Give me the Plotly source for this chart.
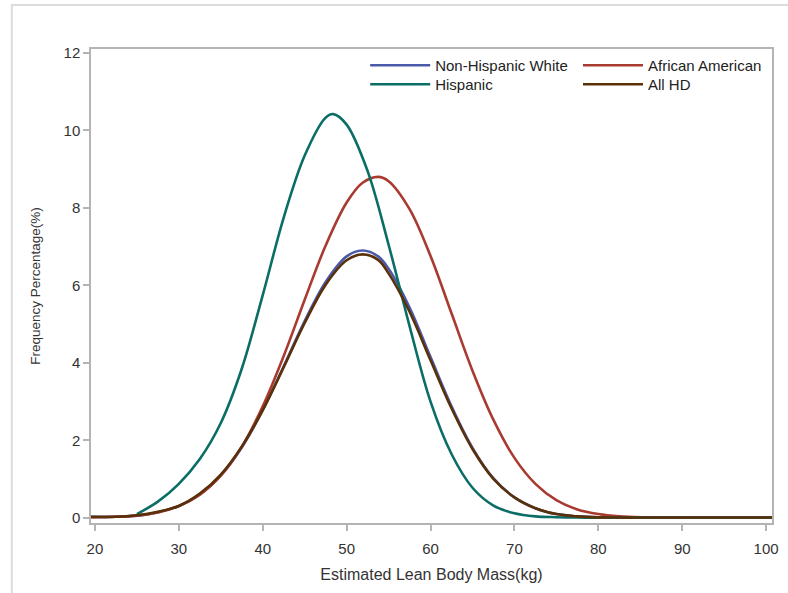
import plotly.graph_objects as go

# x grid (kg) for every read-off point
x_all = [19.5, 22.5, 25, 27.5, 30, 32.5, 35, 37.5, 40, 42.5, 45, 47.5, 50, 51.9, 53.75, 55,
         57.5, 60, 62.5, 65, 67.5, 70, 72.5, 75, 77.5, 80, 82.5, 85, 87.5, 90, 92.5,
         95, 97.5, 101]

nh_white = [0.03, 0.03, 0.06, 0.15, 0.31, 0.61, 1.10, 1.82, 2.78, 3.91, 5.08, 6.09, 6.75,
            6.90, 6.75, 6.43, 5.43, 4.15, 2.88, 1.81, 1.02, 0.53, 0.25, 0.10, 0.04, 0.015,
            0.01, 0.01, 0.01, 0.01, 0.01, 0.01, 0.01, 0.01]

african_am = [0.01, 0.03, 0.06, 0.14, 0.31, 0.60, 1.09, 1.84, 2.88, 4.18, 5.63, 7.03, 8.14,
              8.65, 8.80, 8.69, 7.97, 6.76, 5.28, 3.80, 2.53, 1.55, 0.88, 0.46, 0.22, 0.10,
              0.04, 0.015, 0.01, 0.01, 0.01, 0.01, 0.01, 0.01]

all_hd = [0.03, 0.03, 0.07, 0.16, 0.31, 0.63, 1.12, 1.84, 2.78, 3.89, 5.03, 6.02, 6.65,
          6.80, 6.66, 6.31, 5.32, 4.07, 2.83, 1.78, 1.01, 0.53, 0.25, 0.10, 0.04, 0.015,
          0.01, 0.01, 0.01, 0.01, 0.01, 0.01, 0.01, 0.01]

x_hisp = [25, 27.5, 30, 32.5, 35, 37.5, 40, 42.5, 45, 47.5, 48.4, 50, 52.5, 55, 57.5, 60,
          62.5, 65, 67.5, 70, 72.5, 75, 77.5, 80, 82.5, 85, 87.5, 90, 92.5, 95, 97.5, 101]
hispanic = [0.10, 0.42, 0.88, 1.52, 2.45, 3.85, 5.75, 7.75, 9.35, 10.33, 10.42, 10.15, 8.95,
            7.05, 4.95, 3.0, 1.65, 0.78, 0.32, 0.12, 0.04, 0.02, 0.01, 0.01, 0.01, 0.01,
            0.01, 0.01, 0.01, 0.01, 0.01, 0.01]

x_ticks = [20, 30, 40, 50, 60, 70, 80, 90, 100]
y_ticks = [0, 2, 4, 6, 8, 10, 12]

C_BLUE = "#4a5aa8"
C_RED = "#a83a30"
C_TEAL = "#0b6e66"
C_BROWN = "#5a3008"

FONT = "Liberation Sans, Arial, sans-serif"

fig = go.Figure()
line_kw = dict(shape="spline", smoothing=1.0, width=2.6)
fig.add_trace(go.Scatter(x=x_all, y=nh_white, mode="lines", name="Non-Hispanic White",
                         line=dict(color=C_BLUE, **line_kw), legend="legend", showlegend=True))
fig.add_trace(go.Scatter(x=x_all, y=african_am, mode="lines", name="African American",
                         line=dict(color=C_RED, **line_kw), legend="legend2", showlegend=True))
fig.add_trace(go.Scatter(x=x_hisp, y=hispanic, mode="lines", name="Hispanic",
                         line=dict(color=C_TEAL, **line_kw), legend="legend3", showlegend=True))
fig.add_trace(go.Scatter(x=x_all, y=all_hd, mode="lines", name="All HD",
                         line=dict(color=C_BROWN, **line_kw), legend="legend4", showlegend=True))

axis_common = dict(showline=True, linecolor="#b4b4b4", linewidth=1.5, mirror=True,
                   ticks="outside", ticklen=6, tickcolor="#b4b4b4", tickwidth=1.5,
                   showgrid=False, zeroline=False,
                   tickfont=dict(family=FONT, size=15, color="#333333"))


def leg(px_left, px_top):
    return dict(x=(px_left - 91) / 688, y=1 - (px_top - 49) / 474, xanchor="left",
                yanchor="top", bgcolor="rgba(0,0,0,0)", visible=True,
                font=dict(family=FONT, size=15, color="#222222"), itemwidth=60)


fig.update_layout(
    width=788, height=593,
    showlegend=True,
    margin=dict(l=91, r=9, t=49, b=70),
    paper_bgcolor="white", plot_bgcolor="white",
    font=dict(family=FONT, size=15, color="#333333"),
    xaxis=dict(range=[19.53, 100.7], tickvals=x_ticks, ticklabelstandoff=5,
               title=dict(text="Estimated Lean Body Mass(kg)",
                          font=dict(size=16, color="#333333"), standoff=13),
               **axis_common),
    yaxis=dict(range=[-0.13, 12.1], tickvals=y_ticks,
               title=dict(text="Frequency Percentage(%)",
                          font=dict(size=13.5, color="#333333"), standoff=20),
               **axis_common),
    legend=leg(368, 49),
    legend2=leg(583, 49),
    legend3=leg(368, 68),
    legend4=leg(583, 68),
    shapes=[dict(type="rect", xref="paper", yref="paper",
                 x0=(11 - 91) / 688, x1=1.2, y0=-0.3, y1=1 + (49 - 5) / 474,
                 line=dict(color="#dcdcdc", width=2), layer="below")],
)

fig.write_html("out.html", config={"displayModeBar": False},
               post_script="document.body.style.margin='0';document.body.style.overflow='hidden';")
